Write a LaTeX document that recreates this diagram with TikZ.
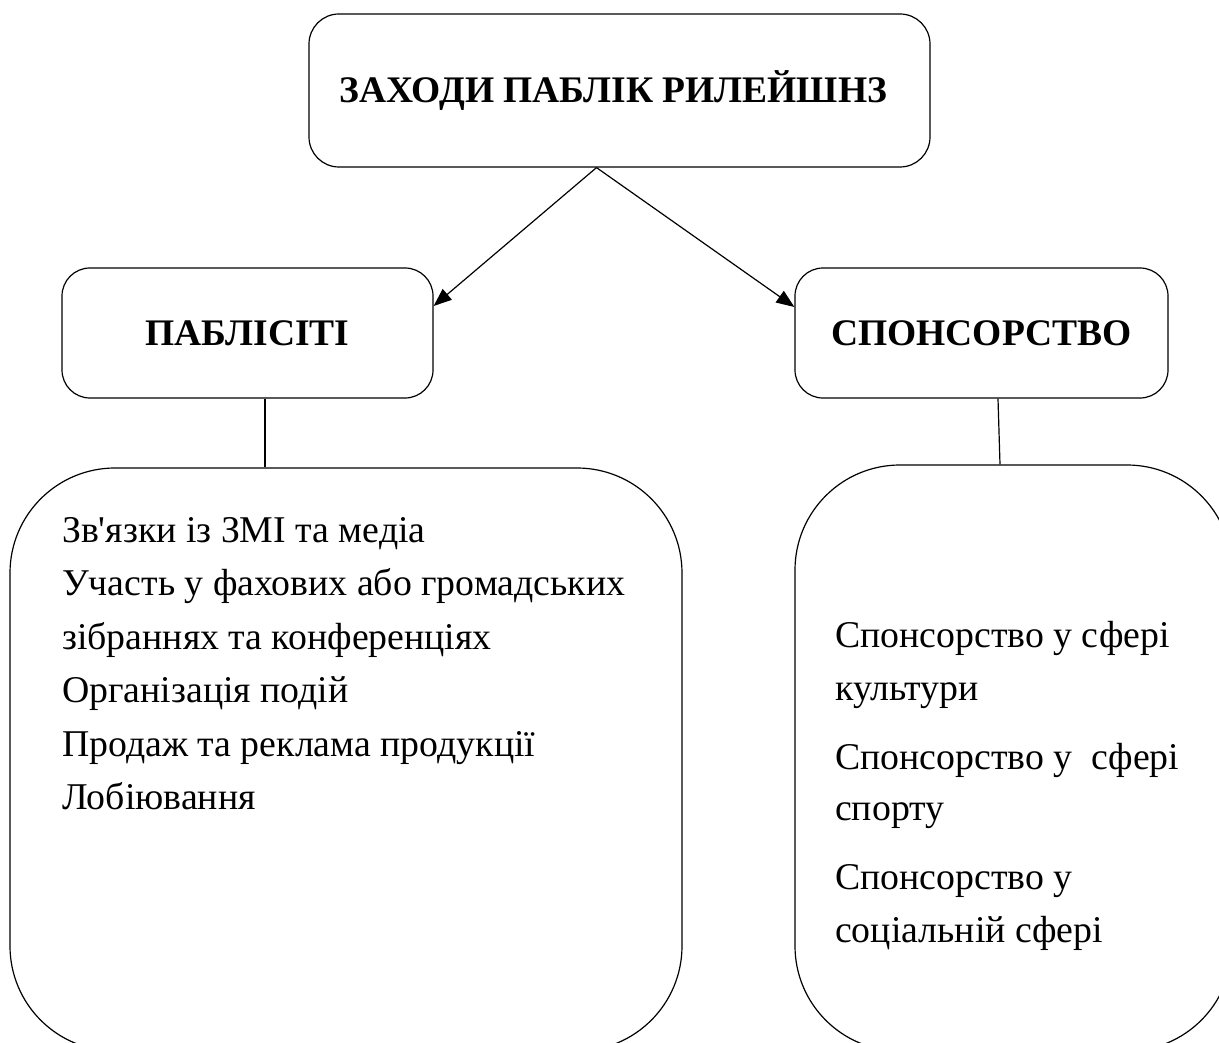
\documentclass[tikz,border=0pt]{standalone}
\usepackage{fontspec}
\setmainfont{Liberation Serif}
\newfontfamily\plainserif{Liberation Serif}
\usetikzlibrary{arrows.meta}
\tikzset{
  box/.style={draw, line width=1.2pt, rounded corners=28pt, inner sep=0pt, align=center,
    font=\fontsize{37.5}{45}\selectfont\bfseries},
  bigbox/.style={draw, line width=1.2pt, rounded corners=105pt, inner sep=0pt},
  item/.style={anchor=base west, inner sep=0pt, font=\fontsize{37.8}{45}\selectfont},
  conn/.style={line width=1.2pt},
  arr/.style={line width=1.2pt, -{Triangle[length=18pt,width=14pt]}}
}
\begin{document}
\begin{tikzpicture}[x=1pt,y=-1pt]
\useasboundingbox (0,0) rectangle (1219,1043);
% boxes
\node[box, rounded corners=30pt, minimum width=621pt, minimum height=153pt] (top) at (619.5,90.5) {\hspace*{-12pt}ЗАХОДИ ПАБЛІК РИЛЕЙШНЗ};
\node[box, minimum width=371pt, minimum height=130pt] (pub) at (247.5,333) {ПАБЛІСІТІ};
\node[box, minimum width=373pt, minimum height=130pt] (spon) at (981.5,333) {СПОНСОРСТВО};
\node[bigbox, minimum width=672pt, minimum height=583pt] (pl) at (346,759.5) {};
\node[bigbox, minimum width=437pt, minimum height=586pt] (sl) at (1013.5,758) {};
% arrows and connectors
\draw[arr] ([xshift=-23pt]top.south) -- ([yshift=27pt]pub.east);
\draw[arr] ([xshift=-23pt]top.south) -- ([yshift=26pt]spon.west);
\draw[conn] ([xshift=17.5pt]pub.south) -- ([xshift=17.5pt]pub.south |- pl.north);
\draw[conn] ([xshift=16.5pt]spon.south) -- ([xshift=-13.5pt]sl.north);
% left list
\node[item] (p1) at (62,542) {{\plainserif Зв'язки} із ЗМІ та медіа};
\node[item] (p2) at (62,595) {Участь у фахових або громадських};
\node[item] (p3) at (62,649) {зібраннях та конференціях};
\node[item] (p4) at (62,702) {Організація подій};
\node[item] (p5) at (62,756) {Продаж та реклама продукції};
\node[item] (p6) at (62,809) {Лобіювання};
% right list
\node[item] (s1) at (835,647) {Спонсорство у сфері};
\node[item] (s2) at (835,700) {культури};
\node[item] (s3) at (835,769) {Спонсорство у\ \ сфері};
\node[item] (s4) at (835,820) {спорту};
\node[item] (s5) at (835,889) {Спонсорство у};
\node[item] (s6) at (835,942) {соціальній сфері};
\end{tikzpicture}
\end{document}
